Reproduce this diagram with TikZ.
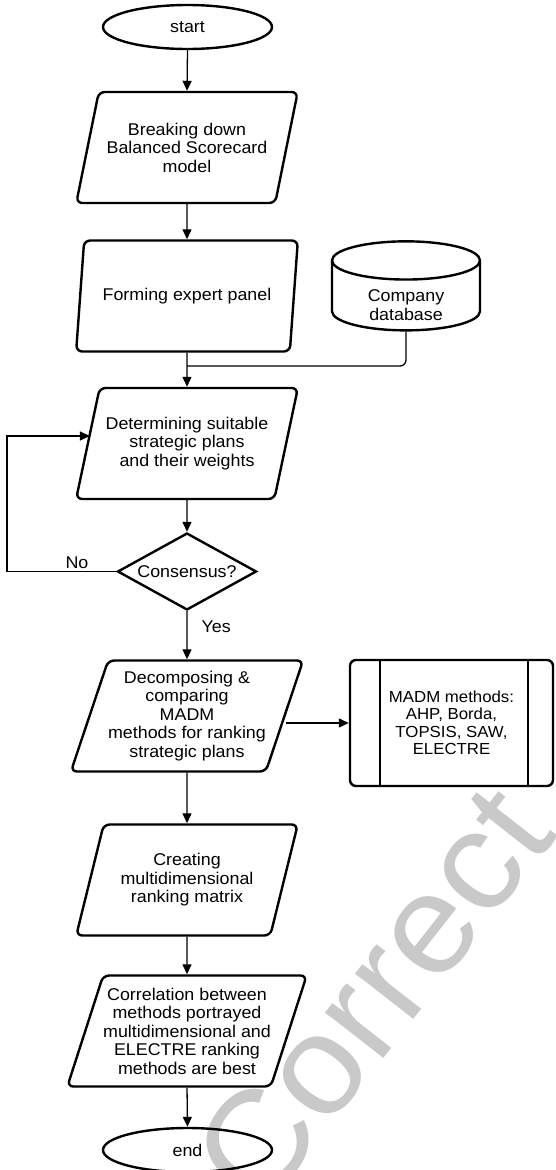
\documentclass[tikz,border=0pt]{standalone}
\usepackage{fontspec}
\setmainfont{Liberation Sans}[FakeStretch=1.05]
\usetikzlibrary{shapes.geometric,arrows.meta}
\colorlet{watermark color}{black!21}
\tikzset{
    x={1pt},
    y={-1pt},
    every node/.style={
        font=\fontsize{17}{18.5}\selectfont,
        align=center,
    },
    shape line/.style={
        draw=black,
        line width={2.4pt},
    },
    terminal/.style={
        shape line, ellipse,
        inner sep=0pt,
        minimum width={169},
        minimum height={44},
    },
    data io/.style={
        shape line, trapezium,
        trapezium left angle=67.5,
        trapezium right angle=112.5,
        trapezium stretches=true,
        rounded corners={6pt},
        inner sep=0pt,
        minimum width={222},
        minimum height={111},
    },
    decision/.style={
        shape line, diamond, aspect=1.8,
        inner sep=0pt,
        minimum width={139},
        minimum height={77},
    },
    database/.style={
        shape line, cylinder,
        shape border rotate=90,
        aspect=0.5,
        inner sep=0pt,
        minimum width={148},
        minimum height={76},
    },
    subprocess/.style={
        shape line, rectangle,
        rounded corners={6pt},
        inner sep=0pt,
        minimum width={203},
        minimum height={126},
        font=\fontsize{16}{17.5}\selectfont,
    },
    flow/.style={
        draw=black,
        line width={1.3pt},
        -{Triangle[length=10pt,width=9pt]},
    },
    link/.style={
        draw=black,
        line width={1.3pt},
        rounded corners={6pt},
    },
    branch label/.style={
        inner sep=2pt,
    },
    watermark/.style={
        text=watermark color,
        rotate=52,
        inner sep=0pt,
        font=\fontsize{140}{140}\selectfont,
    },
}

\begin{document}
\begin{tikzpicture}
\useasboundingbox (0,0) rectangle (555,1170);
% background
\node[watermark] (mark) at (372,995) {Correct};
% nodes
\node[terminal] (start) at (187.5,27) {start};
\node[data io] (p1) at (187,147.5) {Breaking down\\Balanced Scorecard\\model};
\node[data io] (p2) at (187,296) {Forming expert panel};
\node[database] (db) at (406,296) {\phantom{Company}\\\phantom{database}};
\node (dbtext) at (406,305) {Company\\database};
\node[data io] (p3) at (187,443.5) {Determining suitable\\strategic plans\\and their weights};
\node[decision] (dia) at (187,571.5) {Consensus?};
\node[data io] (p4) at (187,716) {Decomposing \&\\comparing\\MADM\\methods for ranking\\strategic plans};
\node[subprocess] (madm) at (451.5,723) {MADM methods:\\AHP, Borda,\\TOPSIS, SAW,\\ELECTRE};
\node[data io] (p5) at (187,880) {Creating\\multidimensional\\ranking matrix};
\node[data io] (p6) at (187,1031) {Correlation between\\methods portrayed\\multidimensional and\\ELECTRE ranking\\methods are best};
\node[terminal] (end) at (187.5,1150) {end};
\draw[shape line] ([xshift=31]madm.north west) -- ([xshift=31]madm.south west);
\draw[shape line] ([xshift=-26]madm.north east) -- ([xshift=-26]madm.south east);
\coordinate (merge) at (187,366);
\coordinate (loop) at (7,571.5);
% connectors
\draw[flow] (start.south) -- (p1.north);
\draw[flow] (p1.south) -- (p2.north);
\draw[flow] (p2.south) -- (p3.north);
\draw[link] (db.south) |- (merge);
\draw[flow] (p3.south) -- (dia.north);
\draw[flow] (dia.west) -- node[branch label, above, pos=0.36] {No} (loop) |- ([shift={(3.2,-7.5)}]p3.west);
\draw[flow] (dia.south) -- node[branch label, right=12pt, pos=0.33] {Yes} (p4.north);
\draw[flow] (madm.west -| p4.east) -- (madm.west);
\draw[flow] (p4.south) -- (p5.north);
\draw[flow] (p5.south) -- (p6.north);
\draw[flow] (p6.south) -- (end.north);
\end{tikzpicture}
\end{document}
